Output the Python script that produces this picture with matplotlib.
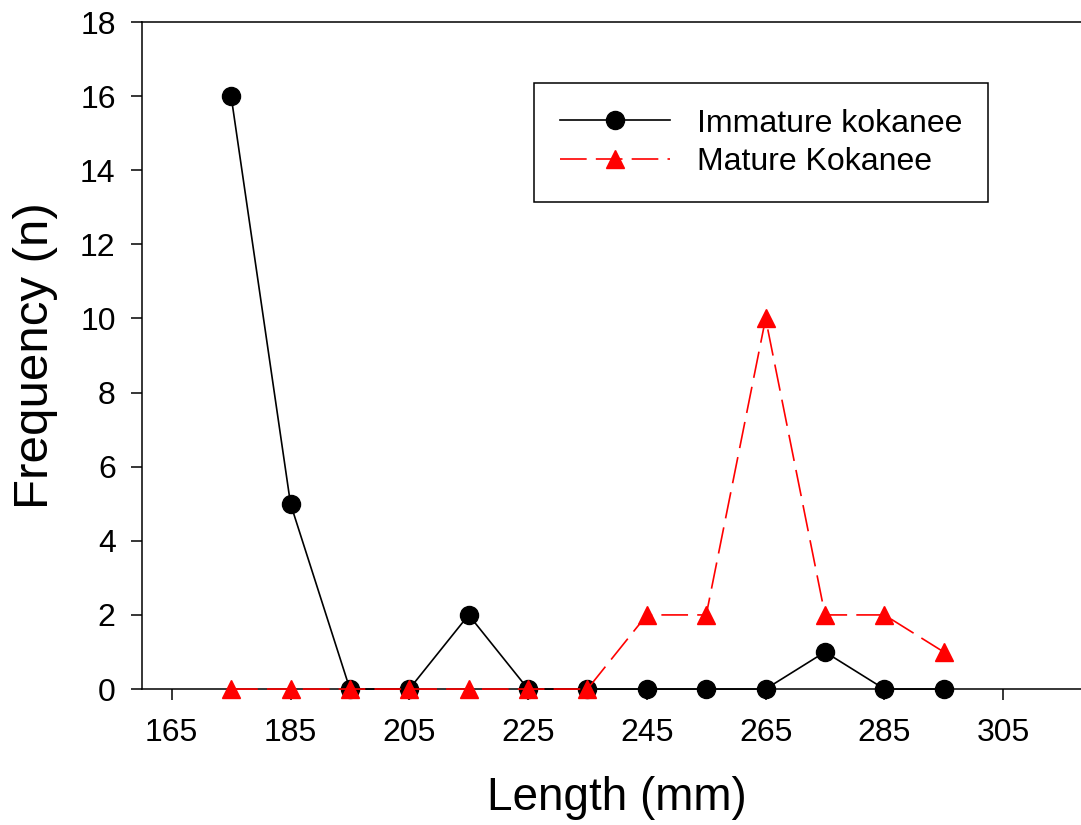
import matplotlib
matplotlib.use("Agg")
import matplotlib.pyplot as plt

length = [175, 185, 195, 205, 215, 225, 235, 245, 255, 265, 275, 285, 295]
immature = [16, 5, 0, 0, 2, 0, 0, 0, 0, 0, 1, 0, 0]
mature = [0, 0, 0, 0, 0, 0, 0, 2, 2, 10, 2, 2, 1]
xticks = [165, 185, 205, 225, 245, 265, 285, 305]
yticks = [0, 2, 4, 6, 8, 10, 12, 14, 16, 18]

plt.rcParams['font.family'] = ['Liberation Sans', 'DejaVu Sans']

fig = plt.figure(figsize=(10.81, 8.25), dpi=100)
ax = fig.add_axes([0.1314, 0.1648, 0.879, 0.8085])

ax.plot(length, immature, color='black', lw=1.2, marker='o', ms=13,
        label='Immature kokanee', clip_on=False, zorder=3)
ax.plot(length, mature, color='red', lw=1.2, marker='^', ms=12.5,
        dashes=(16, 5.5), label='Mature Kokanee', clip_on=False, zorder=4)

ax.set_xlim(160, 320)
ax.set_ylim(0, 18)
ax.set_xticks(xticks)
ax.set_yticks(yticks)
ax.tick_params(direction='out', length=8, width=1.1, labelsize=23)
ax.tick_params(axis='x', pad=13)
ax.tick_params(axis='y', pad=11)
for s in ax.spines.values():
    s.set_linewidth(1.1)
ax.spines['right'].set_visible(False)

ax.set_xlabel('Length (mm)', fontsize=33, labelpad=20)
ax.set_ylabel('Frequency (n)', fontsize=35.5, labelpad=16)

leg = ax.legend(loc='upper left', bbox_to_anchor=(0.413, 0.9085), fontsize=23,
                handlelength=3.44, handletextpad=0.84, borderpad=0.8,
                labelspacing=0.26, fancybox=False, framealpha=1,
                edgecolor='black', borderaxespad=0)
leg.get_frame().set_linewidth(1.1)

fig.savefig('out.png', dpi=100)
